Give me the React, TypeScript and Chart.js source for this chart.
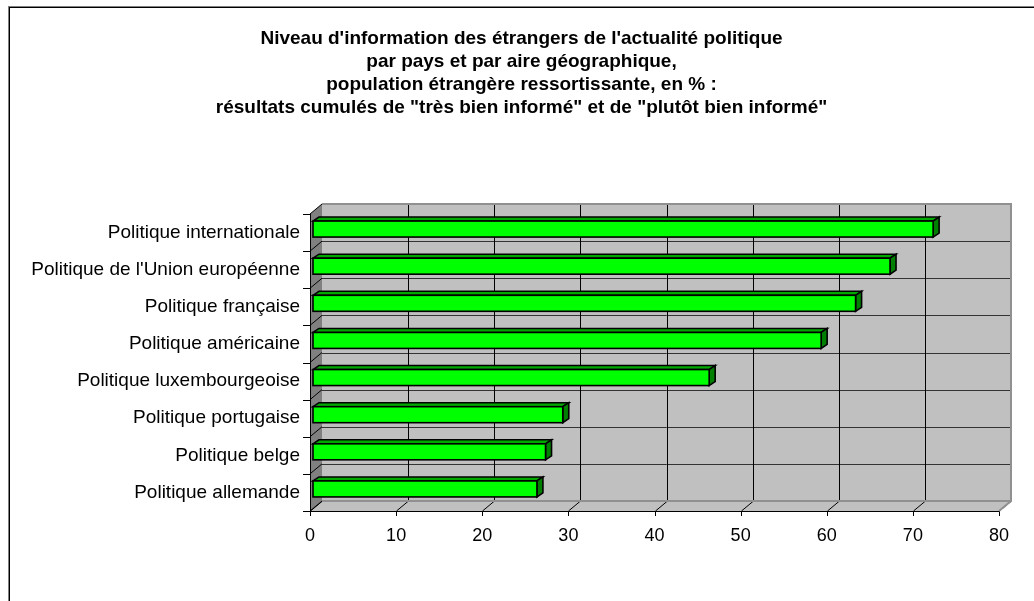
import React, { useEffect, useRef } from "react";
import { Chart, registerables } from "chart.js";

Chart.register(...registerables);

const titleLines = [
  "Niveau d'information des étrangers de l'actualité politique",
  "par pays et par aire géographique,",
  "population étrangère ressortissante, en % :",
  "résultats cumulés de \"très bien informé\" et de \"plutôt bien informé\"",
];

const categories = [
  "Politique internationale",
  "Politique de l'Union européenne",
  "Politique française",
  "Politique américaine",
  "Politique luxembourgeoise",
  "Politique portugaise",
  "Politique belge",
  "Politique allemande",
];

const values = [72, 67, 63, 59, 46, 29, 27, 26];

const xMin = 0;
const xMax = 80;
const xStep = 10;

const DEPTH_X = 12;
const DEPTH_Y = 10;
const TITLE_SHIFT = 22;

const threeD = {
  id: "threeD",
  afterLayout(chart: any) {
    if (chart.titleBlock) {
      chart.titleBlock.left += TITLE_SHIFT;
      chart.titleBlock.right += TITLE_SHIFT;
    }
  },
  beforeDraw(chart: any) {
    const ctx = chart.ctx;
    ctx.save();
    ctx.strokeStyle = "#808080";
    ctx.lineWidth = 1;
    ctx.strokeRect(8.5, 6.5, 1200, 800);
    ctx.strokeStyle = "#000";
    ctx.strokeRect(9.5, 7.5, 1200, 800);
    ctx.restore();
  },
  beforeDatasetsDraw(chart: any) {
    const ctx = chart.ctx;
    const { left, right, top, bottom } = chart.chartArea;
    const xs = chart.scales.x;
    const n = categories.length;
    const band = (bottom - top) / n;
    ctx.save();
    const bl = left + DEPTH_X, br = right + DEPTH_X, bt = top - DEPTH_Y, bb = bottom - DEPTH_Y;
    ctx.fillStyle = "#C0C0C0";
    ctx.fillRect(bl, bt, br - bl, bb - bt);
    ctx.fillStyle = "#808080";
    ctx.beginPath();
    ctx.moveTo(left, top);
    ctx.lineTo(bl, bt);
    ctx.lineTo(bl, bb);
    ctx.lineTo(left, bottom);
    ctx.closePath();
    ctx.fill();
    ctx.fillStyle = "#C0C0C0";
    ctx.beginPath();
    ctx.moveTo(left, bottom);
    ctx.lineTo(right, bottom);
    ctx.lineTo(br, bb);
    ctx.lineTo(bl, bb);
    ctx.closePath();
    ctx.fill();
    ctx.strokeStyle = "#333";
    ctx.lineWidth = 1;
    for (let k = 1; k < n; k++) {
      const yb = Math.round(bt + k * band) + 0.5;
      ctx.beginPath();
      ctx.moveTo(bl, yb);
      ctx.lineTo(br, yb);
      ctx.stroke();
    }
    ctx.strokeStyle = "#000";
    for (let k = 0; k <= n; k++) {
      const yf = top + k * band;
      ctx.beginPath();
      ctx.moveTo(left, yf);
      ctx.lineTo(bl, yf - DEPTH_Y);
      ctx.stroke();
      ctx.beginPath();
      ctx.moveTo(left - 7, Math.round(yf) + 0.5);
      ctx.lineTo(left, Math.round(yf) + 0.5);
      ctx.stroke();
    }
    for (let v = xMin; v <= xMax; v += xStep) {
      const px = Math.round(xs.getPixelForValue(v)) + 0.5;
      if (v > xMin && v < xMax) {
        ctx.strokeStyle = "#000";
        ctx.beginPath();
        ctx.moveTo(px + DEPTH_X, bt);
        ctx.lineTo(px + DEPTH_X, bb);
        ctx.stroke();
      }
      ctx.strokeStyle = "#000";
      ctx.beginPath();
      ctx.moveTo(px, bottom);
      ctx.lineTo(px + DEPTH_X, bb);
      ctx.stroke();
      ctx.beginPath();
      ctx.moveTo(px, bottom);
      ctx.lineTo(px, bottom + 5);
      ctx.stroke();
    }
    ctx.strokeStyle = "#909090";
    ctx.lineWidth = 2;
    ctx.beginPath();
    ctx.moveTo(bl, bt);
    ctx.lineTo(br, bt);
    ctx.lineTo(br, bb);
    ctx.lineTo(right, bottom);
    ctx.stroke();
    ctx.beginPath();
    ctx.moveTo(bl, bb);
    ctx.lineTo(br, bb);
    ctx.stroke();
    ctx.strokeStyle = "#000";
    ctx.lineWidth = 1;
    ctx.beginPath();
    ctx.moveTo(left - 7, Math.round(bottom) + 0.5);
    ctx.lineTo(right, Math.round(bottom) + 0.5);
    ctx.stroke();
    ctx.beginPath();
    ctx.moveTo(left + 0.5, top);
    ctx.lineTo(left + 0.5, bottom);
    ctx.stroke();
    ctx.restore();
  },
  afterDatasetsDraw(chart: any) {
    const ctx = chart.ctx;
    const meta = chart.getDatasetMeta(0);
    const sx = 3, sy = -3.5, dx = 6, dy = 4;
    ctx.save();
    ctx.lineWidth = 1.6;
    ctx.strokeStyle = "#000";
    ctx.lineJoin = "miter";
    meta.data.forEach((el: any) => {
      const p = el.getProps(["x", "y", "base", "height"], true);
      const L = p.base + sx;
      const R = p.x + sx;
      const T = p.y - p.height / 2 + sy;
      const B = p.y + p.height / 2 + sy;
      ctx.fillStyle = "#00A800";
      ctx.beginPath();
      ctx.moveTo(L, T);
      ctx.lineTo(L + dx, T - dy);
      ctx.lineTo(R + dx, T - dy);
      ctx.lineTo(R, T);
      ctx.closePath();
      ctx.fill();
      ctx.stroke();
      ctx.fillStyle = "#008000";
      ctx.beginPath();
      ctx.moveTo(R, T);
      ctx.lineTo(R + dx, T - dy);
      ctx.lineTo(R + dx, B - dy);
      ctx.lineTo(R, B);
      ctx.closePath();
      ctx.fill();
      ctx.stroke();
      ctx.fillStyle = "#00FF00";
      ctx.fillRect(L, T, R - L, B - T);
      ctx.strokeRect(L, T, R - L, B - T);
    });
    ctx.restore();
  },
};

export default function App() {
  const ref = useRef<HTMLCanvasElement | null>(null);
  useEffect(() => {
    if (!ref.current) return;
    const chart = new Chart(ref.current, {
      type: "bar",
      data: {
        labels: categories,
        datasets: [
          {
            data: values,
            backgroundColor: "rgba(0,0,0,0)",
            borderWidth: 0,
            barThickness: 16,
          },
        ],
      },
      options: {
        indexAxis: "y",
        responsive: false,
        animation: false,
        devicePixelRatio: 1,
        layout: { padding: { left: 0, right: 35, top: 0, bottom: 0 } },
        plugins: {
          legend: { display: false },
          tooltip: { enabled: false },
          title: {
            display: true,
            text: titleLines,
            color: "#000",
            font: { family: "'Liberation Sans', Arial, sans-serif", size: 19, weight: "bold", lineHeight: 23 / 19 },
            padding: { top: 27, bottom: 95 },
          },
        },
        scales: {
          x: {
            min: xMin,
            max: xMax,
            grid: { display: false, drawTicks: false },
            border: { display: false },
            ticks: {
              stepSize: xStep,
              color: "#000",
              padding: 14,
              maxRotation: 0,
              font: { family: "'Liberation Sans', Arial, sans-serif", size: 18 },
            },
            afterFit: (s: any) => {
              s.height = 90;
            },
          },
          y: {
            grid: { display: false, drawTicks: false },
            border: { display: false },
            ticks: {
              color: "#000",
              padding: 10,
              font: { family: "'Liberation Sans', Arial, sans-serif", size: 19 },
            },
            afterFit: (s: any) => {
              s.width = 310;
            },
          },
        },
      },
      plugins: [threeD],
    });
    return () => chart.destroy();
  }, []);
  return (
    <div style={{ position: "fixed", left: 0, top: 0, width: 1034, height: 601, background: "#fff" }}>
      <canvas ref={ref} width={1034} height={601} style={{ width: 1034, height: 601, display: "block" }} />
    </div>
  );
}
